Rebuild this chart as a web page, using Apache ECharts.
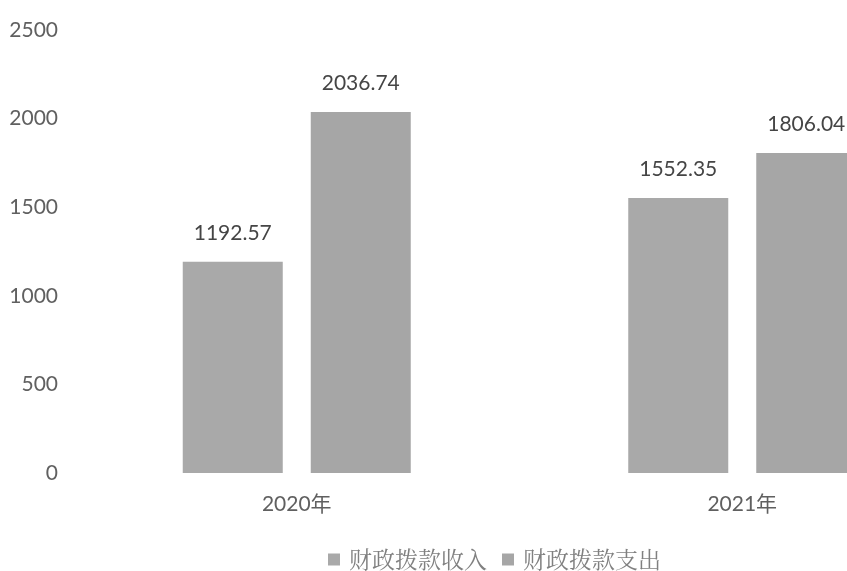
<!DOCTYPE html>
<html><head><meta charset="utf-8">
<script src="https://cdn.jsdelivr.net/npm/echarts@6/dist/echarts.min.js"></script>
<style>html,body{margin:0;padding:0;background:#fff;overflow:hidden;width:847px;height:571px}#c{width:965px;height:571px}</style>
</head><body><div id="c"></div>
<script>
var categories = ['2020年', '2021年'];
var seriesNames = ['财政拨款收入', '财政拨款支出'];
var income = [1192.57, 1552.35];
var expense = [2036.74, 1806.04];
var yTicks = [0, 500, 1000, 1500, 2000, 2500];

var chart = echarts.init(document.getElementById('c'));
var font = 'Lato, "Noto Sans CJK SC", sans-serif';
chart.setOption({
  animation: false,
  grid: { left: 74, right: 0, top: 30, bottom: 98, containLabel: false },
  legend: {
    data: seriesNames, left: 323, top: 543, itemWidth: 12, itemHeight: 12, itemGap: 15,
    icon: 'rect',
    textStyle: { fontFamily: '"Noto Serif CJK SC","Noto Sans CJK SC", serif', fontSize: 23, color: '#808080', padding: [0, 0, 0, 4] }
  },
  xAxis: {
    type: 'category', data: categories,
    axisLine: { show: false }, axisTick: { show: false },
    axisLabel: { fontFamily: font, fontSize: 21, color: '#606060', margin: 21 }
  },
  yAxis: {
    type: 'value', min: yTicks[0], max: yTicks[yTicks.length - 1], interval: 500,
    splitLine: { show: false }, axisLine: { show: false }, axisTick: { show: false },
    axisLabel: { fontFamily: font, fontSize: 21, color: '#606060', margin: 16, formatter: function (v) { return String(v); } }
  },
  series: [
    { name: seriesNames[0], type: 'bar', data: income, barWidth: 100, barGap: '28%',
      itemStyle: { color: '#a9a9a9' },
      label: { show: true, position: 'top', distance: 18, fontFamily: font, fontSize: 21, color: '#454545' } },
    { name: seriesNames[1], type: 'bar', data: expense, barWidth: 100,
      itemStyle: { color: '#a6a6a6' },
      label: { show: true, position: 'top', distance: 18, fontFamily: font, fontSize: 21, color: '#454545' } }
  ]
});
</script></body></html>
